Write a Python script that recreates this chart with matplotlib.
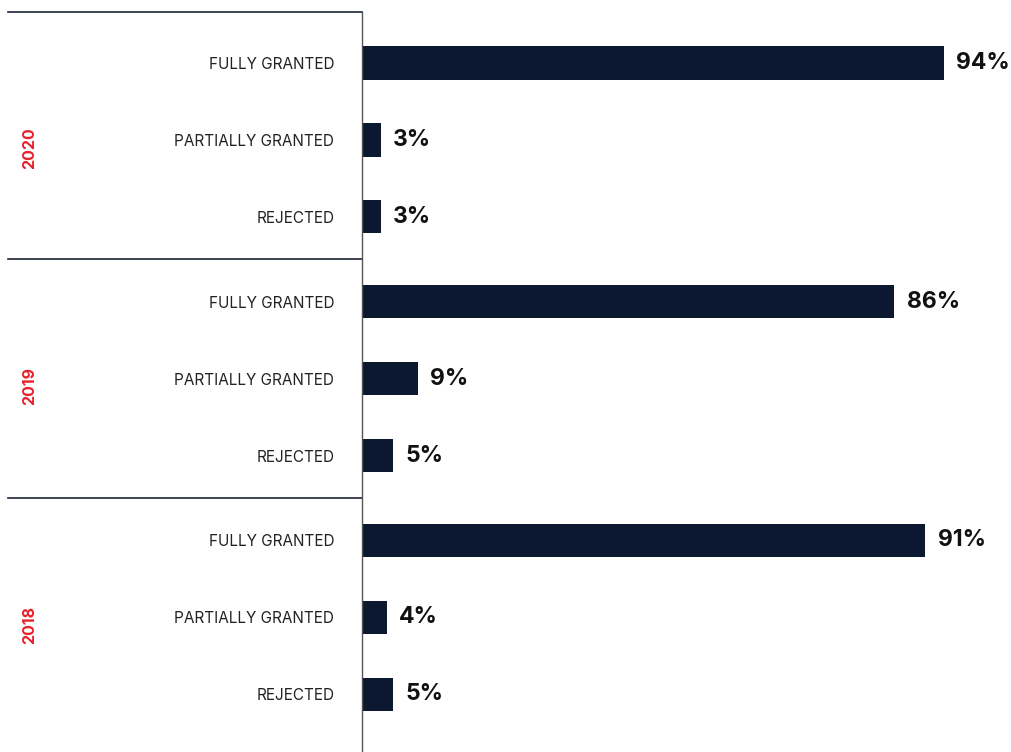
import matplotlib
matplotlib.use("Agg")
import matplotlib.pyplot as plt

years = ["2020", "2019", "2018"]
outcomes = ["FULLY GRANTED", "PARTIALLY GRANTED", "REJECTED"]
share_2020 = [94, 3, 3]
share_2019 = [86, 9, 5]
share_2018 = [91, 4, 5]

plt.rcParams["font.family"] = ["Inter", "DejaVu Sans"]

BAR = "#0b1830"
RED = "#e8212b"
TEXT = "#222222"
GROUP_GAP = 0.1

fig = plt.figure(figsize=(10.12, 7.52), dpi=100)
ax = fig.add_axes([362 / 1012, 0, 650 / 1012, 1])

values = share_2020 + share_2019 + share_2018
labels = outcomes * len(years)
n = len(outcomes)
rows = [g * n + i + g * GROUP_GAP for g in range(len(years)) for i in range(n)]

ax.barh(rows, values, height=0.43, color=BAR, zorder=2)
for r, v in zip(rows, values):
    ax.annotate(f"{v}%", (v, r), xytext=(9, 0), textcoords="offset points",
                ha="left", va="center", fontsize=16.5, fontweight="bold", color="#111111")

ax.set_xlim(0, 105)
ax.set_ylim(8.95, -0.818)
ax.set_yticks(rows)
ax.set_yticklabels(labels, fontsize=11, color=TEXT)
ax.tick_params(axis="y", length=0, pad=20)
ax.set_xticks([])

for s in ["top", "right", "bottom"]:
    ax.spines[s].set_visible(False)
ax.spines["left"].set_color("#555555")
ax.spines["left"].set_linewidth(1.0)
top = -0.66
ax.spines["left"].set_bounds(top, 8.95)

# group separators extending to the left of the axis
x_start = (8 - 362) / 650
seps = [top] + [(rows[g * n - 1] + rows[g * n]) / 2 for g in range(1, len(years))]
for y in seps:
    ax.axhline(y, xmin=x_start, xmax=0, color="#1c2535", lw=1.2, clip_on=False)

# year labels, rotated, centred on each group
x_year = (30 - 362) / 650
for g, yr in enumerate(years):
    yc = rows[g * n + 1] + 0.1
    ax.text(x_year, yc, yr, transform=ax.get_yaxis_transform(),
            rotation=90, ha="center", va="center", fontsize=11.5,
            fontweight="bold", color=RED)

fig.savefig("out.png", dpi=100)
